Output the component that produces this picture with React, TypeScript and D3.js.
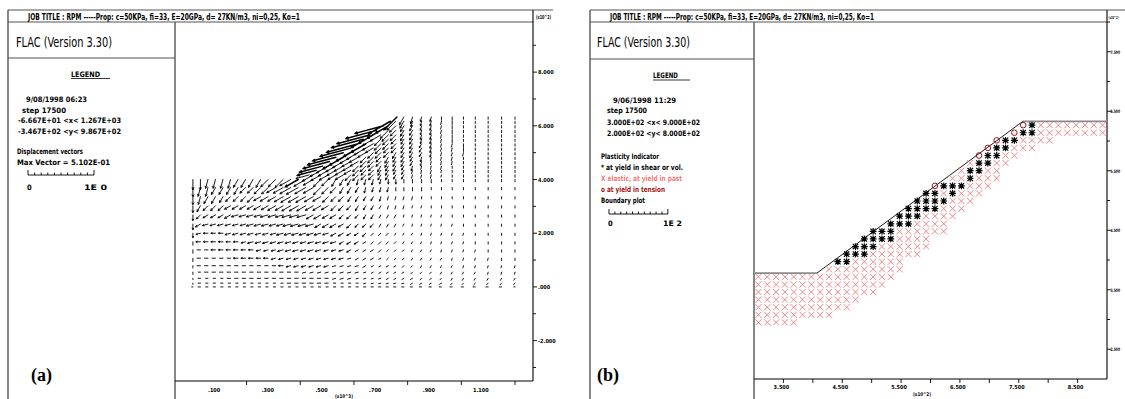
import React, { useEffect, useMemo } from 'react';
import * as d3 from 'd3';

// ---------- shared text ----------
const JOB_TITLE = 'JOB TITLE :  RPM  -----Prop: c=50KPa, fi=33, E=20GPa, d= 27KN/m3, ni=0,25, Ko=1';
const FLAC_VERSION = 'FLAC (Version 3.30)';

// ---------- panel (a): displacement vectors ----------
const A_LEGEND_LINES = ['9/08/1998  06:23', 'step  17500', '-6.667E+01 <x<  1.267E+03', '-3.467E+02 <y<  9.867E+02'];
const A_VECTOR_LINES = ['Displacement vectors', 'Max Vector =     5.102E-01'];
const A_SCALE_LABELS = ['0', '1E  0'];
const A_X_RANGE = [-66.7, 1267];
const A_Y_RANGE = [-346.7, 986.7];
const A_X_LABEL_VALUES = [100, 300, 500, 700, 900, 1100];
const A_X_LABELS = ['.100', '.300', '.500', '.700', '.900', '1.100'];
const A_X_TICKS = [200, 400, 600, 800, 1000, 1200];
const A_Y_LABEL_VALUES = [-200, 0, 200, 400, 600, 800];
const A_Y_LABELS = ['-2.000', '.000', '2.000', '4.000', '6.000', '8.000'];
const A_Y_MINOR = [-300, -100, 100, 300, 500, 700, 900];
const A_TOE = [407, 400];
const A_CREST = [760, 633];

// grid-point columns / rows of the mesh (m)
const MESH_COLS = [0, 28, 56, 84, 112, 140, 168, 196, 224, 252, 280, 308, 336, 364, 392, 420, 448, 476, 504, 532,
  560, 588, 616, 644, 672, 700, 728, 756, 786, 818, 852, 888, 926, 966, 1008, 1052, 1100, 1150, 1200];
const MESH_ROWS = [633, 617, 600, 583, 566, 550, 533, 517, 500, 483, 467, 450, 434, 417,
  400, 370, 336, 302, 268, 234, 200, 168, 138, 107, 79, 55, 32, 14, 0];

// vector direction per grid point: a=0deg, b=15deg ... m=180deg (left), s=270deg (down)
const VEC_DIR: [number, string][] = [
  [27, 'pqrrrsssssss'],
  [26, 'opqrrrrssssss'],
  [25, 'nopqqrrrssssss'],
  [24, 'noppqqrrrssssss'],
  [23, 'nooppqqrrrssssss'],
  [22, 'noopppqqrrrssssss'],
  [22, 'noopppqqqrrrsssss'],
  [21, 'nooopppqqqrrrsssss'],
  [20, 'nooopppqqqqrrrrssss'],
  [19, 'nooopppqqqqrrrrsssss'],
  [18, 'noooopppqqqqrrrrsssss'],
  [17, 'noooopppqqqqrrrrssssss'],
  [16, 'nooooopppqqqqrrrrssssss'],
  [15, 'noooooppppqqqqrrrrssssss'],
  [0, 'ssrrrrqqqq' + 'pppooooppq' + 'qqrrrrssss' + 'sssssssss'],
  [0, 'srrqqqqppp' + 'pooooooppp' + 'qqqrrrrsss' + 'sssssssss'],
  [0, 'srqqqppppo' + 'oooooooopp' + 'pqqqqrrrrr' + 'sssssssss'],
  [0, 'sqpppooooo' + 'ooooooooop' + 'ppqqqqrrrr' + 'rssssssss'],
  [0, 'spoooonnnn' + 'nnnnnnoooo' + 'pppqqqqqrr' + 'rrrssssss'],
  [0, 'sonnnnnnnn' + 'nnnnnnnooo' + 'oppppqqqqr' + 'rrrrsssss'],
  [0, 'snmmmnnnnn' + 'nnnnnnnnno' + 'oooppppqqq' + 'rrrrrssss'],
  [0, 'smmmmmmnnn' + 'nnnnnnnnnn' + 'ooooppppqq' + 'qrrrrssss'],
  [0, 'smmmmmmmmn' + 'nnnnnnnnnn' + 'nooooppppq' + 'qqrrrrsss'],
  [0, 'smmmmmmmmm' + 'mnnnnnnnnn' + 'nnoooopppq' + 'qqqrrrrss'],
  [0, 'smmmmmmmmm' + 'mmmnnnnnnn' + 'nnnooooopp' + 'qqqqrrrrr'],
  [0, 'smmmmmmmmm' + 'mmmmmnnnnn' + 'nnnnooooop' + 'ppqqqqrrr'],
  [0, 'smmmmmmmmm' + 'mmmmmmmmmn' + 'nnnnnnoooo' + 'pppqqqqqq'],
  [0, 'smmmmmmmmm' + 'mmmmmmmmmm' + 'mmmnnnnnno' + 'ooopppppp'],
  [0, 'mmmmmmmmmm' + 'mmmmmmmmmm' + 'mmmmmmmmmm' + 'mmmmmmmmm'],
];

// vector magnitude per grid point, base-36 steps of VEC_UNIT metres (u = 5.102E-01)
const VEC_MAG: [number, string][] = [
  [27, 'g86443322222'],
  [26, 'mb75443322222'],
  [25, 'qd865443322222'],
  [24, 'sea765443322222'],
  [23, 'ufb8765443322222'],
  [22, 'tfb87655443322222'],
  [22, 'tfb87655443332222'],
  [21, 'sfc876655443332222'],
  [20, 'sfc8776655443332222'],
  [19, 'qeb97766554433322222'],
  [18, 'odb987766554433322222'],
  [17, 'lca9877665544333222222'],
  [16, 'hba98776655443332222222'],
  [15, 'cba988776655443332222222'],
  [0, '9988888888' + '99abdca987' + '6655544433' + '332222222'],
  [0, '8887777778' + '89abcba987' + '6655444333' + '322222222'],
  [0, '7777666677' + '889aaa9876' + '6554443333' + '222222222'],
  [0, '6666666667' + '7889998876' + '6554433332' + '222222222'],
  [0, '5555566666' + '7778887766' + '5544433322' + '222222222'],
  [0, '5555555566' + '6667777666' + '5544433322' + '222222222'],
  [0, '4444455555' + '5566666655' + '5444333222' + '222222222'],
  [0, '3444444455' + '5555555555' + '4443333222' + '222222222'],
  [0, '3334444444' + '4455555544' + '4433332222' + '222222222'],
  [0, '3333334444' + '4444444444' + '4333322222' + '222222222'],
  [0, '2333333333' + '3344444443' + '3333222222' + '222222222'],
  [0, '2233333333' + '3333333333' + '3332222222' + '222222222'],
  [0, '1222233333' + '3333333333' + '3322222222' + '222222222'],
  [0, '1222222222' + '2223333332' + '2222222222' + '222222222'],
  [0, '0222222222' + '2222222222' + '2222222222' + '222222221'],
];
const VEC_UNIT = 0.017; // m per magnitude step
const VEC_SCALE_M = 1; // legend bar length: 1E 0

// ---------- panel (b): plasticity indicator ----------
const B_LEGEND_LINES = ['9/06/1998  11:29', 'step  17500', '3.000E+02 <x<  9.000E+02', '2.000E+02 <y<  8.000E+02'];
const B_PLASTIC_LINES = ['Plasticity Indicator', '* at yield in shear or vol.', 'X elastic, at yield in past', 'o at yield in tension', 'Boundary plot'];
const B_SCALE_LABELS = ['0', '1E  2'];
const B_SCALE_UNITS = 100;
const B_X_RANGE = [300, 900];
const B_Y_RANGE = [200, 800];
const B_X_LABEL_VALUES = [350, 450, 550, 650, 750, 850];
const B_X_LABELS = ['3.500', '4.500', '5.500', '6.500', '7.500', '8.500'];
const B_X_TICKS = [350, 400, 450, 500, 550, 600, 650, 700, 750, 800, 850];
const B_Y_LABEL_VALUES = [250, 350, 450, 550, 650, 750];
const B_Y_LABELS = ['2.500', '3.500', '4.500', '5.500', '6.500', '7.500'];
const B_Y_TICKS = [250, 300, 350, 400, 450, 500, 550, 600, 650, 700, 750, 800];
const B_BOUNDARY: [number, number][] = [[300, 378], [407, 378], [757, 633], [900, 633]];
const ZONE_X0 = 300;
const ZONE_W = 15;
const ZONE_TOP = 633;
const ZONE_H = 12.75;
// zone rows from the crest down: [first zone column, states]  x = yield in past, * = shear, o = tension
const PLASTIC_ROWS: [number, string][] = [
  [30, 'o*xxxxxxxx'],
  [29, 'o**xxxxxxxx'],
  [27, 'o**xxxx'],
  [26, 'o**xxx'],
  [25, 'o**xx'],
  [24, 'x**xx'],
  [23, 'x**xx'],
  [22, 'xx*xxx'],
  [20, 'o***xxx'],
  [19, '**x*xxx'],
  [18, '****xxx'],
  [17, '****xxx'],
  [16, '***xxxx'],
  [15, '***xxxx'],
  [13, '***xxxxxx'],
  [12, '****xxxx'],
  [11, '***xxxxxx'],
  [10, '***xxxxxx'],
  [9, '**xxxxxx'],
  [8, 'xxxxxxxxx'],
  [0, 'xxxxxxxxxxxxxxxx'],
  [0, 'xxxxxxxxxxxxxxx'],
  [0, 'xxxxxxxxxxxxxx'],
  [0, 'xxxxxxxxxxxx'],
  [0, 'xxxxxxxxxxx'],
  [0, 'xxxxxxxxx'],
  [0, 'xxxxx'],
];

// ---------- styling ----------
const W = 1125;
const H = 399;
const FONT = "'Liberation Sans Narrow','DejaVu Sans Condensed','Arial Narrow',sans-serif";
const FRAME = '#555';
const SALMON = '#f07a7a';
const DARK_RED = '#a01414';

const A_L = { left: 8, colRight: 175, plotRight: 533, plotTop: 22, plotBottom: 380, flacBottom: 58, titleTop: 10, topLineEnd: 553 };
const B_L = { left: 590, colRight: 754, plotRight: 1107, plotTop: 22, plotBottom: 379, flacBottom: 59, titleTop: 10, topLineEnd: 1125 };

type TP = { x: number; y: number; size?: number; len?: number; weight?: string | number; fill?: string; anchor?: string; family?: string; children: React.ReactNode };
function Txt({ x, y, size = 7.5, len, weight = 'bold', fill = '#000', anchor = 'start', family = FONT, children }: TP) {
  const extra: any = len ? { textLength: len, lengthAdjust: 'spacingAndGlyphs' } : {};
  return (
    <text x={x} y={y} fontSize={size} fontFamily={family} fontWeight={weight} fill={fill} textAnchor={anchor as any} {...extra}>
      {children}
    </text>
  );
}

function ScaleBar({ x0, x1, y }: { x0: number; x1: number; y: number }) {
  const s = d3.scaleLinear().domain([0, 10]).range([x0, x1]);
  let d = `M${x0},${y}H${x1}`;
  d3.range(11).forEach((i) => {
    const h = i === 0 || i === 10 ? 5 : 2.5;
    d += `M${s(i)},${y}v${-h}`;
  });
  return <path d={d} stroke="#000" strokeWidth={0.9} fill="none" />;
}

function Frame({ L, titleX, titleLen, flacX, flacLen, multX, multLen, multSize }: { L: typeof A_L; titleX: number; titleLen: number; flacX: number; flacLen: number; multX: number; multLen: number; multSize: number }) {
  return (
    <g>
      <line x1={L.left} y1={L.titleTop} x2={L.topLineEnd} y2={L.titleTop} stroke={FRAME} strokeWidth={1.2} />
      <line x1={L.left} y1={L.plotTop} x2={L.plotRight} y2={L.plotTop} stroke={FRAME} strokeWidth={1.2} />
      <line x1={L.left} y1={L.titleTop} x2={L.left} y2={H} stroke={FRAME} strokeWidth={1.4} />
      <line x1={L.colRight} y1={L.plotTop} x2={L.colRight} y2={H} stroke={FRAME} strokeWidth={1.4} />
      <line x1={L.left} y1={L.flacBottom} x2={L.colRight} y2={L.flacBottom} stroke={FRAME} strokeWidth={1.2} />
      <Txt x={titleX} y={19.5} size={8} len={titleLen}>{JOB_TITLE}</Txt>
      <Txt x={flacX} y={47} size={14} len={flacLen} weight="normal">{FLAC_VERSION}</Txt>
      <Txt x={multX} y={19} size={multSize} len={multLen}>(x10^2)</Txt>
    </g>
  );
}

export default function App() {
  useEffect(() => {
    document.body.style.margin = '0';
  }, []);

  const ax = d3.scaleLinear().domain(A_X_RANGE).range([A_L.colRight, A_L.plotRight]);
  const ay = d3.scaleLinear().domain(A_Y_RANGE).range([A_L.plotBottom, A_L.plotTop]);
  const bx = d3.scaleLinear().domain(B_X_RANGE).range([B_L.colRight, B_L.plotRight]);
  const by = d3.scaleLinear().domain(B_Y_RANGE).range([B_L.plotBottom, B_L.plotTop]);

  // pixels per metre of displacement, set by the legend bar
  const vecPx = 66 / VEC_SCALE_M;

  // long vectors are drawn in a heavier pen, as the plotter does when they stack up
  const vectors = useMemo(() => {
    const slope = (A_CREST[0] - A_TOE[0]) / (A_CREST[1] - A_TOE[1]);
    let thin = '';
    let heavy = '';
    MESH_ROWS.forEach((yv, r) => {
      const [s, dirs] = VEC_DIR[r];
      const [sm, mags] = VEC_MAG[r];
      const faceX = yv > A_TOE[1] ? A_TOE[0] + (yv - A_TOE[1]) * slope : -Infinity;
      for (let i = 0; i < dirs.length; i++) {
        const k = s + i;
        const xv = Math.max(MESH_COLS[k], faceX);
        const ang = ((dirs.charCodeAt(i) - 97) * 15 * Math.PI) / 180;
        const m = parseInt(mags[k - sm], 36) * VEC_UNIT;
        const len = Math.max(m * vecPx, 1.2);
        const x1 = ax(xv);
        const y1 = ay(yv);
        const ux = Math.cos(ang);
        const uy = -Math.sin(ang);
        const x2 = x1 + ux * len;
        const y2 = y1 + uy * len;
        let d = `M${x1.toFixed(2)},${y1.toFixed(2)}L${x2.toFixed(2)},${y2.toFixed(2)}`;
        if (len > 4) {
          const h = Math.min(2, len * 0.3);
          const a = (28 * Math.PI) / 180;
          const bxv = -ux, byv = -uy;
          const w1x = bxv * Math.cos(a) - byv * Math.sin(a);
          const w1y = bxv * Math.sin(a) + byv * Math.cos(a);
          const w2x = bxv * Math.cos(-a) - byv * Math.sin(-a);
          const w2y = bxv * Math.sin(-a) + byv * Math.cos(-a);
          d += `M${(x2 + w1x * h).toFixed(2)},${(y2 + w1y * h).toFixed(2)}L${x2.toFixed(2)},${y2.toFixed(2)}L${(x2 + w2x * h).toFixed(2)},${(y2 + w2y * h).toFixed(2)}`;
        }
        if (len >= 14) heavy += d;
        else thin += d;
      }
    });
    return { thin, heavy };
  }, []);

  const markers = useMemo(() => {
    let xs = '';
    let stars = '';
    const circles: [number, number][] = [];
    PLASTIC_ROWS.forEach(([start, codes], j) => {
      const py = by(ZONE_TOP - ZONE_H * (j + 0.5));
      for (let i = 0; i < codes.length; i++) {
        const px = bx(ZONE_X0 + ZONE_W * (start + i + 0.5));
        const c = codes[i];
        if (c === 'x') {
          const r = 3.1;
          xs += `M${px - r},${py - r}L${px + r},${py + r}M${px - r},${py + r}L${px + r},${py - r}`;
        } else if (c === '*') {
          const r = 3.4;
          const q = 2.7;
          stars += `M${px - q},${py - q}L${px + q},${py + q}M${px - q},${py + q}L${px + q},${py - q}M${px},${py - r}V${py + r}M${px - r},${py}H${px + r}`;
        } else if (c === 'o') {
          circles.push([px, py]);
        }
      }
    });
    return { xs, stars, circles };
  }, []);

  const boundary = d3.line<[number, number]>().x((p) => bx(p[0])).y((p) => by(p[1]));

  const aScaleX0 = 28;
  const bScaleX0 = 609;

  return (
    <svg width={W} height={H} viewBox={`0 0 ${W} ${H}`} style={{ position: 'absolute', left: 0, top: 0, background: '#fff' }}>
      <rect x={0} y={0} width={W} height={H} fill="#fff" />

      {/* ===== panel (a) ===== */}
      <Frame L={A_L} titleX={28} titleLen={272} flacX={16} flacLen={96} multX={536} multLen={15} multSize={5.5} />
      <Txt x={71} y={76.5} size={7.5} len={29}>LEGEND</Txt>
      <line x1={71} y1={78.5} x2={110} y2={78.5} stroke="#000" strokeWidth={0.8} />
      <Txt x={26} y={102} len={61}>{A_LEGEND_LINES[0]}</Txt>
      <Txt x={22} y={112.5} len={44}>{A_LEGEND_LINES[1]}</Txt>
      <Txt x={18} y={123} len={103}>{A_LEGEND_LINES[2]}</Txt>
      <Txt x={18} y={134} len={103}>{A_LEGEND_LINES[3]}</Txt>
      <Txt x={17} y={154} len={66}>{A_VECTOR_LINES[0]}</Txt>
      <Txt x={17} y={164.5} len={93}>{A_VECTOR_LINES[1]}</Txt>
      <ScaleBar x0={aScaleX0} x1={aScaleX0 + VEC_SCALE_M * vecPx} y={175} />
      <Txt x={27} y={190}>{A_SCALE_LABELS[0]}</Txt>
      <Txt x={84} y={190} len={23}>{A_SCALE_LABELS[1]}</Txt>
      <text x={31} y={381} fontSize={18} fontWeight="bold" fontFamily="'Liberation Serif','Times New Roman',serif">(a)</text>

      {/* axes (a) */}
      <line x1={A_L.plotRight} y1={A_L.titleTop} x2={A_L.plotRight} y2={A_L.plotBottom + 1} stroke="#000" strokeWidth={1.1} />
      <line x1={A_L.colRight} y1={A_L.plotBottom + 1} x2={A_L.plotRight} y2={A_L.plotBottom + 1} stroke="#000" strokeWidth={1.1} />
      {A_Y_LABEL_VALUES.map((v, i) => (
        <g key={'ay' + v}>
          <line x1={A_L.plotRight} x2={A_L.plotRight + 4} y1={ay(v)} y2={ay(v)} stroke="#000" strokeWidth={0.9} />
          <Txt x={A_L.plotRight + 5} y={ay(v) + 2} size={5.5}>{A_Y_LABELS[i]}</Txt>
        </g>
      ))}
      {A_Y_MINOR.map((v) => (
        <line key={'aym' + v} x1={A_L.plotRight} x2={A_L.plotRight + 3} y1={ay(v)} y2={ay(v)} stroke="#000" strokeWidth={0.9} />
      ))}
      {A_X_TICKS.map((v) => (
        <line key={'axt' + v} x1={ax(v)} x2={ax(v)} y1={A_L.plotBottom + 1} y2={A_L.plotBottom + 5} stroke="#000" strokeWidth={0.9} />
      ))}
      {A_X_LABEL_VALUES.map((v, i) => (
        <Txt key={'axl' + v} x={ax(v) + 0.5} y={392} size={5.5} anchor="end">{A_X_LABELS[i]}</Txt>
      ))}
      <Txt x={335} y={397.5} size={5} len={18}>(x10^3)</Txt>

      {/* displacement vectors */}
      <path d={vectors.thin} stroke="#000" strokeWidth={0.9} fill="none" strokeLinecap="round" />
      <path d={vectors.heavy} stroke="#000" strokeWidth={1.5} fill="none" strokeLinecap="round" />

      {/* ===== panel (b) ===== */}
      <Frame L={B_L} titleX={610} titleLen={264} flacX={597} flacLen={93} multX={1108.5} multLen={10} multSize={4.2} />
      <Txt x={653} y={78} size={7.5} len={25}>LEGEND</Txt>
      <line x1={653} y1={80} x2={690} y2={80} stroke="#000" strokeWidth={0.8} />
      <Txt x={613} y={102.5} len={63}>{B_LEGEND_LINES[0]}</Txt>
      <Txt x={607} y={113} len={40}>{B_LEGEND_LINES[1]}</Txt>
      <Txt x={607} y={125} len={93}>{B_LEGEND_LINES[2]}</Txt>
      <Txt x={607} y={136} len={93}>{B_LEGEND_LINES[3]}</Txt>
      <Txt x={601} y={158.5} len={58}>{B_PLASTIC_LINES[0]}</Txt>
      <Txt x={601} y={169.5} len={82}>{B_PLASTIC_LINES[1]}</Txt>
      <Txt x={601} y={180.5} len={81} fill={SALMON}>{B_PLASTIC_LINES[2]}</Txt>
      <Txt x={601} y={191.5} len={64} fill={DARK_RED}>{B_PLASTIC_LINES[3]}</Txt>
      <Txt x={601} y={202.5} len={44}>{B_PLASTIC_LINES[4]}</Txt>
      <ScaleBar x0={bScaleX0} x1={bScaleX0 + bx(B_X_RANGE[0] + B_SCALE_UNITS) - bx(B_X_RANGE[0])} y={214} />
      <Txt x={608} y={226}>{B_SCALE_LABELS[0]}</Txt>
      <Txt x={663} y={226} len={19}>{B_SCALE_LABELS[1]}</Txt>
      <text x={597} y={381} fontSize={18} fontWeight="bold" fontFamily="'Liberation Serif','Times New Roman',serif">(b)</text>

      {/* axes (b) */}
      <line x1={B_L.plotRight} y1={B_L.titleTop} x2={B_L.plotRight} y2={B_L.plotBottom} stroke="#000" strokeWidth={1.1} />
      <line x1={B_L.colRight} y1={B_L.plotBottom} x2={B_L.plotRight} y2={B_L.plotBottom} stroke="#000" strokeWidth={1.1} />
      {B_Y_TICKS.map((v) => (
        <line key={'byt' + v} x1={B_L.plotRight} x2={B_L.plotRight + (B_Y_LABEL_VALUES.includes(v) ? 4 : 3)} y1={by(v)} y2={by(v)} stroke="#000" strokeWidth={0.9} />
      ))}
      {B_Y_LABEL_VALUES.map((v, i) => (
        <Txt key={'byl' + v} x={B_L.plotRight + 3.5} y={by(v) + 1.8} size={4.6} len={9.5}>{B_Y_LABELS[i]}</Txt>
      ))}
      {B_X_TICKS.map((v) => (
        <line key={'bxt' + v} x1={bx(v)} x2={bx(v)} y1={B_L.plotBottom} y2={B_L.plotBottom + 4} stroke="#000" strokeWidth={0.9} />
      ))}
      {B_X_LABEL_VALUES.map((v, i) => (
        <Txt key={'bxl' + v} x={bx(v) - 2} y={389} size={5.5} anchor="middle">{B_X_LABELS[i]}</Txt>
      ))}
      <Txt x={913} y={395.5} size={5} len={18}>(x10^2)</Txt>

      {/* boundary plot */}
      <path d={boundary(B_BOUNDARY.slice(0, 2)) || ''} stroke="#8a8a8a" strokeWidth={1.6} fill="none" />
      <path d={boundary(B_BOUNDARY.slice(2, 4)) || ''} stroke="#8a8a8a" strokeWidth={1.6} fill="none" />
      <path d={boundary(B_BOUNDARY.slice(1, 3)) || ''} stroke="#000" strokeWidth={0.9} fill="none" />

      {/* plasticity indicators */}
      <path d={markers.xs} stroke={SALMON} strokeWidth={0.9} fill="none" />
      <path d={markers.stars} stroke="#000" strokeWidth={1.2} fill="none" />
      {markers.circles.map(([cx, cy], i) => (
        <circle key={'o' + i} cx={cx} cy={cy} r={2.8} stroke={DARK_RED} strokeWidth={1} fill="none" />
      ))}
    </svg>
  );
}
